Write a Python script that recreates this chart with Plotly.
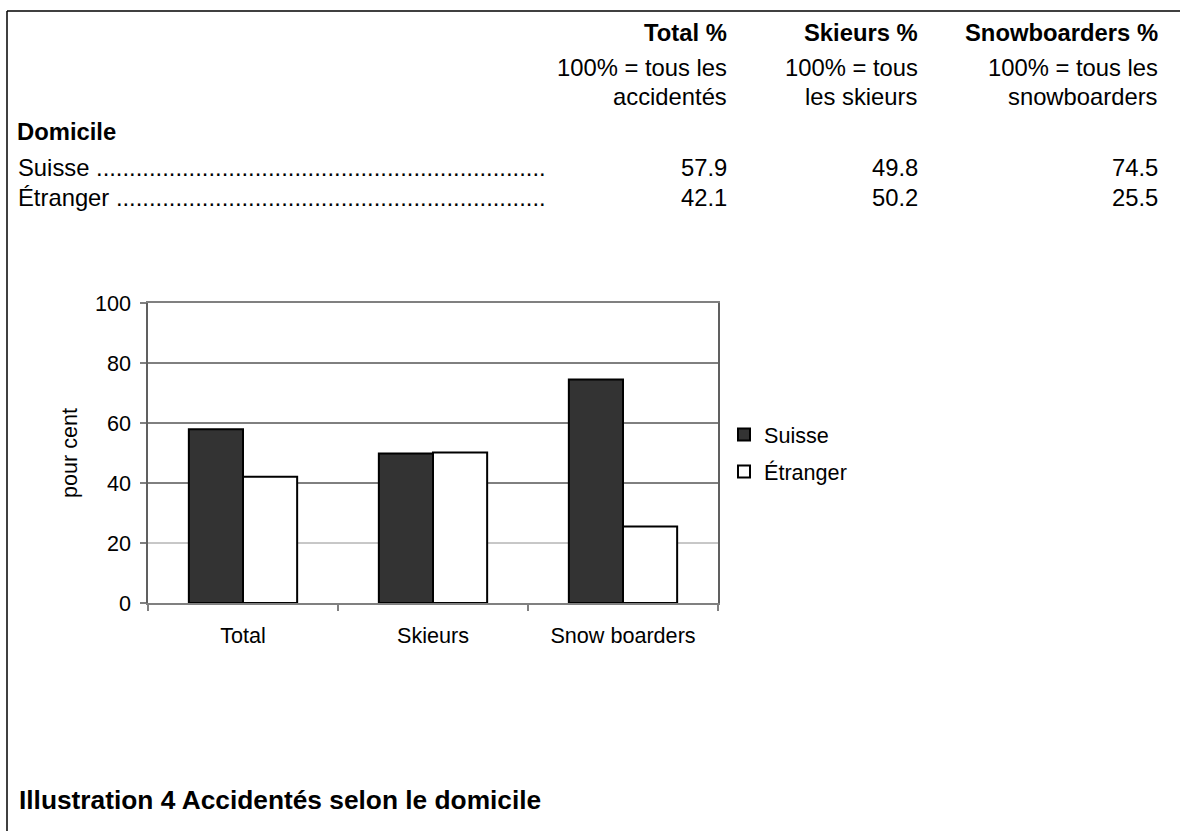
import plotly.graph_objects as go

# ---- data ----
categories = ["Total", "Skieurs", "Snow boarders"]
series_names = ["Suisse", "Étranger"]
suisse = [57.9, 49.8, 74.5]
etranger = [42.1, 50.2, 25.5]
col_headers = ["Total %", "Skieurs %", "Snowboarders %"]
col_sub1 = ["100% = tous les", "100% = tous", "100% = tous les"]
col_sub2 = ["accidentés", "les skieurs", "snowboarders"]
row_group = "Domicile"
y_ticks = [0, 20, 40, 60, 80, 100]
caption = "Illustration 4 Accidentés selon le domicile"

W, H = 1180, 831
L, R, T, B = 148, 718, 303, 603  # plot area in pixels
FONT = "Liberation Sans, Arial, sans-serif"
TS = 23.8   # table font size
CS = 21.6   # chart font size


def px(x):
    return (x - L) / (R - L)


def py(y):
    return (B - y) / (B - T)


fig = go.Figure()
fig.add_trace(go.Bar(x=categories, y=suisse, name=series_names[0], legendgroup="a",
                     marker=dict(color="#333333", line=dict(color="black", width=2))))
fig.add_trace(go.Bar(x=categories, y=etranger, name=series_names[1], legendgroup="b",
                     marker=dict(color="white", line=dict(color="black", width=2))))

ann = []
col_right = [729, 920, 1160]
for i in range(3):
    ann.append(dict(x=px(col_right[i]), y=py(32), text="<b>%s</b>" % col_headers[i],
                    xanchor="right", yanchor="middle", font=dict(size=TS)))
    ann.append(dict(x=px(col_right[i]), y=py(68), text=col_sub1[i],
                    xanchor="right", yanchor="middle", font=dict(size=TS)))
    ann.append(dict(x=px(col_right[i]), y=py(96), text=col_sub2[i],
                    xanchor="right", yanchor="middle", font=dict(size=TS)))
    ann.append(dict(x=px(col_right[i]), y=py(167), text="%.1f" % suisse[i],
                    xanchor="right", yanchor="middle", font=dict(size=TS)))
    ann.append(dict(x=px(col_right[i]), y=py(198), text="%.1f" % etranger[i],
                    xanchor="right", yanchor="middle", font=dict(size=TS)))

ann.append(dict(x=px(15), y=py(131), text="<b>%s</b>" % row_group,
                xanchor="left", yanchor="middle", font=dict(size=TS)))
ann.append(dict(x=px(16), y=py(167), text=series_names[0] + " " + "." * 68,
                xanchor="left", yanchor="middle", font=dict(size=TS)))
ann.append(dict(x=px(16), y=py(198), text=series_names[1] + " " + "." * 65,
                xanchor="left", yanchor="middle", font=dict(size=TS)))
ann.append(dict(x=px(17), y=py(800), text="<b>%s</b>" % caption,
                xanchor="left", yanchor="middle", font=dict(size=26.3)))
for a in ann:
    a.update(xref="paper", yref="paper", showarrow=False)

shapes = []
# page frame lines
shapes.append(dict(type="line", xref="paper", yref="paper", x0=px(7), x1=px(1180),
                   y0=py(11), y1=py(11), line=dict(color="black", width=1.5)))
shapes.append(dict(type="line", xref="paper", yref="paper", x0=px(7), x1=px(7),
                   y0=py(11), y1=py(831), line=dict(color="black", width=1.5)))
# gridlines
for v in y_ticks[1:-1]:
    shapes.append(dict(type="line", xref="paper", yref="y", x0=0, x1=1, y0=v, y1=v,
                       layer="below",
                       line=dict(color="#909090" if v == 20 else "black", width=1)))

fig.update_layout(
    width=W, height=H, autosize=False,
    margin=dict(l=L, r=W - R, t=T, b=H - B, pad=0),
    paper_bgcolor="white", plot_bgcolor="white",
    font=dict(family=FONT, size=CS, color="black"),
    barmode="group", bargap=0.43, bargroupgap=0,
    showlegend=True,
    legend=dict(x=px(724), y=py(414), xanchor="left", yanchor="top",
                font=dict(size=CS), tracegroupgap=6, bgcolor="rgba(0,0,0,0)"),
    annotations=ann, shapes=shapes,
)
fig.update_xaxes(type="category", showline=True, linecolor="#808080", linewidth=1.5,
                 mirror=True, ticks="outside", tickson="boundaries", ticklen=6,
                 tickcolor="#808080", tickwidth=1.5, showgrid=False,
                 ticklabelstandoff=12, tickfont=dict(size=CS))
fig.update_yaxes(range=[0, 100], tickvals=y_ticks, showline=True, linecolor="#606060",
                 linewidth=1.5, mirror=True, ticks="outside", ticklen=6,
                 tickcolor="#808080", tickwidth=1.5, showgrid=False, zeroline=False,
                 ticklabelstandoff=5, tickfont=dict(size=CS),
                 title=dict(text="pour cent", font=dict(size=CS), standoff=11))

fig.write_html("out.html", config={"displayModeBar": False},
               post_script="document.body.style.margin='0';")
